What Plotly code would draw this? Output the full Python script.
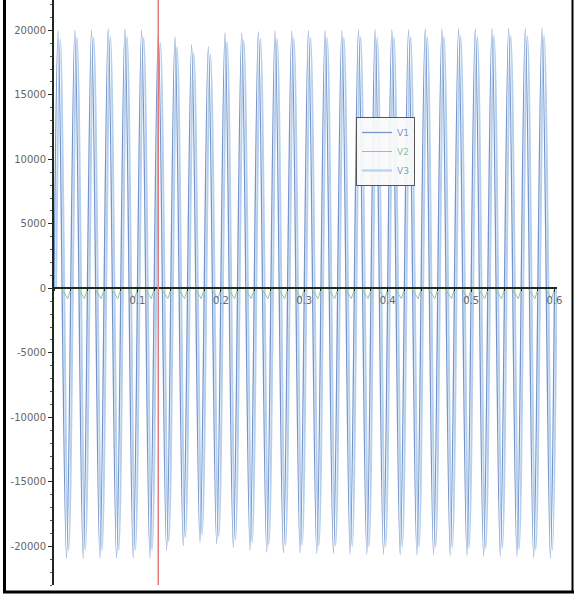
import plotly.graph_objects as go

# ---- data ----
period = 0.02          # 50 Hz
t_end = 0.6
event_t = 0.125        # red marker line

# V1 positive peaks per cycle (30 cycles)
v1_peaks = [19950, 20020, 20020, 20100, 20100, 20020, 19640, 19480, 18860, 18710,
            19790, 19790, 19900, 19950, 19950, 20000, 20000, 20000, 20050, 20050,
            20050, 20050, 20100, 20100, 20100, 20100, 20150, 20150, 20150, 20180]
# V1 negative troughs per cycle
v1_troughs = [-20900, -20900, -20900, -20900, -20900, -20900, -20300, -19950, -19700, -19800,
              -20100, -20300, -20450, -20500, -20500, -20550, -20550, -20600, -20600, -20600,
              -20650, -20650, -20650, -20700, -20700, -20750, -20750, -20800, -20850, -20900]
# V3 peaks / troughs (slightly lagging, slightly smaller)
v3_peaks = [19300, 19400, 19400, 19500, 19500, 19400, 19000, 18700, 18200, 18100,
            19100, 19200, 19300, 19350, 19350, 19400, 19400, 19400, 19450, 19450,
            19450, 19450, 19500, 19500, 19500, 19500, 19550, 19550, 19550, 19600]
v3_troughs = [-20300, -20300, -20300, -20300, -20300, -20300, -19600, -19300, -19100, -19200,
              -19500, -19700, -19850, -19900, -19900, -19950, -19950, -20000, -20000, -20000,
              -20050, -20050, -20050, -20100, -20100, -20150, -20150, -20200, -20250, -20300]
v3_lag = 0.0025
# V2 small dips below zero once per cycle
v2_dips = [-800] * 30

y_ticks = [20000, 15000, 10000, 5000, 0, -5000, -10000, -15000, -20000]
x_ticks = [0.1, 0.2, 0.3, 0.4, 0.5, 0.6]
y_range = [-23000, 22350]
x_range = [0, 0.603]


def wave(peaks, troughs, lag=0.0):
    t, v = [0.0 + lag], [0]
    for k, (p, q) in enumerate(zip(peaks, troughs)):
        t += [k * period + period / 4 + lag, k * period + 3 * period / 4 + lag]
        v += [p, q]
    t.append(min(t_end + lag, x_range[1]))
    v.append(0)
    return t, v


def dips(vals):
    t, v = [], []
    for k, d in enumerate(vals):
        t += [k * period + period / 4 + 0.0035, k * period + 3 * period / 4 + 0.0015,
              (k + 1) * period + 0.0005]
        v += [0, d, 0]
    return t, v


t1, y1 = wave(v1_peaks, v1_troughs)
t3, y3 = wave(v3_peaks, v3_troughs, v3_lag)
t2, y2 = dips(v2_dips)

c1 = "#7893c9"
c2 = "#93c493"
c3 = "#b3d1ee"

fig = go.Figure()
fig.add_trace(go.Scatter(x=t3, y=y3, mode="lines", line=dict(color=c3, width=2.0, shape="spline"),
                         name="<span style='color:#6aa6c4'>V3</span>", legendrank=3))
fig.add_trace(go.Scatter(x=t1, y=y1, mode="lines", line=dict(color=c1, width=1.3, shape="spline"),
                         name="<span style='color:#7d93c6'>V1</span>", legendrank=1))
fig.add_trace(go.Scatter(x=t2, y=y2, mode="lines", line=dict(color=c2, width=1),
                         name="<span style='color:#8fc08f'>V2</span>", legendrank=2))

W, H = 577, 596
L, R, T, B = 54, 20, 0, 11
pw, ph = W - L - R, H - T - B


def px(xp):
    return (xp - L) / pw


def py(yp):
    return 1 - (yp - T) / ph


zero_pos = (0 - y_range[0]) / (y_range[1] - y_range[0])

fig.update_layout(
    width=W, height=H,
    margin=dict(l=L, r=R, t=T, b=B),
    paper_bgcolor="white", plot_bgcolor="white",
    showlegend=True,
    legend=dict(x=px(356), y=py(117), xanchor="left", yanchor="top",
                bgcolor="rgba(250,250,250,0.92)", bordercolor="#555", borderwidth=1,
                font=dict(family="DejaVu Sans", size=9, color="#7d93c6"),
                traceorder="normal", itemwidth=30, tracegroupgap=0),
    xaxis=dict(range=x_range, anchor="free", position=zero_pos,
               showgrid=False, zeroline=False,
               showline=True, linecolor="#1f2a1f", linewidth=2,
               tickvals=x_ticks, ticktext=[str(v) for v in x_ticks],
               ticks="outside", ticklen=3, tickcolor="#1f2a1f",
               tickfont=dict(family="DejaVu Sans", size=10, color="#666"),
               minor=dict(dtick=0.02, ticks="outside", ticklen=2, tickcolor="#1f2a1f"),
               layer="above traces"),
    yaxis=dict(range=y_range, showgrid=False, zeroline=False,
               showline=True, linecolor="#1f2a1f", linewidth=2,
               tickvals=y_ticks, ticktext=[str(v) for v in y_ticks],
               ticks="outside", ticklen=4, tickcolor="#1f2a1f",
               tickfont=dict(family="DejaVu Sans", size=10, color="#666"),
               minor=dict(dtick=1000, ticks="outside", ticklen=2, tickcolor="#555"),
               layer="above traces"),
    shapes=[
        dict(type="line", xref="x", yref="paper", x0=event_t, x1=event_t, y0=0, y1=1,
             line=dict(color="#e27a7a", width=1.5)),
        dict(type="line", xref="paper", yref="paper", x0=px(4.5), x1=px(4.5), y0=py(0), y1=py(593),
             line=dict(color="black", width=3)),
        dict(type="line", xref="paper", yref="paper", x0=px(572.5), x1=px(572.5), y0=py(0), y1=py(593),
             line=dict(color="black", width=2)),
        dict(type="line", xref="paper", yref="paper", x0=px(3), x1=px(574), y0=py(592), y1=py(592),
             line=dict(color="black", width=3)),
    ],
)

fig.write_html("out.html")
